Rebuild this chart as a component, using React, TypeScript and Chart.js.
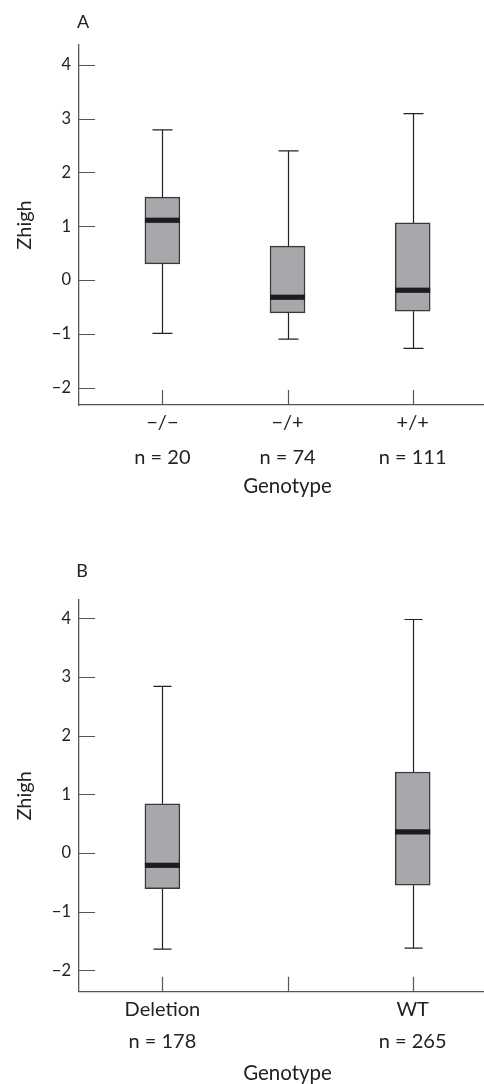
import React, { useEffect, useRef } from 'react';
import { Chart, registerables } from 'chart.js';

Chart.register(...registerables);

const FONT = 'Lato, "DejaVu Sans", sans-serif';
const TEXT = '#222222';
const AXIS = '#555555';

const yTickValues = [-2, -1, 0, 1, 2, 3, 4];

// Panel A
const genotypesA = ['−/−', '−/+', '+/+'];
const countsA = ['n = 20', 'n = 74', 'n = 111'];
const positionsA = [1, 2, 3];
const minA = [-0.99, -1.1, -1.27];
const q1A = [0.3, -0.61, -0.58];
const medA = [1.11, -0.32, -0.19];
const q3A = [1.54, 0.63, 1.06];
const maxA = [2.79, 2.4, 3.09];

// Panel B
const genotypesB = ['Deletion', 'WT'];
const countsB = ['n = 178', 'n = 265'];
const positionsB = [1, 3];
const minB = [-1.64, -1.62];
const q1B = [-0.61, -0.55];
const medB = [-0.21, 0.36];
const q3B = [0.84, 1.38];
const maxB = [2.84, 3.98];

const xTickPositions = [1, 2, 3];

const X_TICK_SIZE = 20;
const Y_TICK_SIZE = 16.5;

type Panel = {
  letter: string;
  letterX: number;
  letterY: number;
  names: string[];
  counts: string[];
  positions: number[];
  mins: number[];
  q1: number[];
  med: number[];
  q3: number[];
  maxs: number[];
  yMin: number;
  yMax: number;
  xMin: number;
  xMax: number;
  width: number;
  height: number;
  top: number;
  padTop: number;
  xScaleHeight: number;
  tickLineSpacing: number;
  firstLineCenter: number;
  xTitleY: number;
  capWidth: number;
};

const fmt = (v: number) => (v < 0 ? '−' + Math.abs(v) : String(v));

function extrasPlugin(p: Panel) {
  return {
    id: 'boxExtras',
    afterDatasetsDraw(chart: any) {
      const { ctx, chartArea } = chart;
      const x = chart.scales.x;
      const y = chart.scales.y;
      const meta = chart.getDatasetMeta(0);
      ctx.save();
      ctx.strokeStyle = '#222';
      ctx.lineWidth = 1.2;
      p.positions.forEach((pos, i) => {
        const px = Math.round(x.getPixelForValue(pos)) + 0.5;
        const yMax = y.getPixelForValue(p.maxs[i]);
        const yQ3 = y.getPixelForValue(p.q3[i]);
        const yQ1 = y.getPixelForValue(p.q1[i]);
        const yMin = y.getPixelForValue(p.mins[i]);
        ctx.beginPath();
        ctx.moveTo(px, yMax);
        ctx.lineTo(px, yQ3);
        ctx.moveTo(px, yQ1);
        ctx.lineTo(px, yMin);
        ctx.moveTo(px - p.capWidth / 2, yMax);
        ctx.lineTo(px + p.capWidth / 2, yMax);
        ctx.moveTo(px - p.capWidth / 2, yMin);
        ctx.lineTo(px + p.capWidth / 2, yMin);
        ctx.stroke();
        const bar = meta.data[i];
        const ym = y.getPixelForValue(p.med[i]);
        ctx.fillStyle = '#1c1c1c';
        ctx.fillRect(bar.x - bar.width / 2, ym - 2.6, bar.width, 5.2);
      });
      ctx.strokeStyle = AXIS;
      ctx.lineWidth = 1.2;
      ctx.beginPath();
      yTickValues.forEach((v) => {
        const py = Math.round(y.getPixelForValue(v)) + 0.5;
        ctx.moveTo(chartArea.left, py);
        ctx.lineTo(chartArea.left + 16, py);
      });
      xTickPositions.forEach((v) => {
        const px = Math.round(x.getPixelForValue(v)) + 0.5;
        ctx.moveTo(px, chartArea.bottom);
        ctx.lineTo(px, chartArea.bottom - 15);
      });
      ctx.stroke();
      ctx.fillStyle = TEXT;
      ctx.textAlign = 'center';
      ctx.textBaseline = 'middle';
      ctx.font = `20.5px ${FONT}`;
      ctx.fillText('Genotype', x.getPixelForValue(2), p.xTitleY);
      ctx.font = `18px ${FONT}`;
      ctx.fillText(p.letter, p.letterX, p.letterY);
      ctx.restore();
    },
  };
}

function buildConfig(p: Panel): any {
  const labelFor = (v: number) => {
    const idx = p.positions.indexOf(v);
    return idx >= 0 ? [p.names[idx], p.counts[idx]] : '';
  };
  const lh = p.tickLineSpacing / X_TICK_SIZE;
  const pad = p.firstLineCenter - p.tickLineSpacing / 2;
  return {
    type: 'bar',
    data: {
      datasets: [
        {
          data: p.positions.map((pos, i) => ({ x: pos, y: [p.q1[i], p.q3[i]] })),
          backgroundColor: '#a7a8ab',
          borderColor: '#3a3a3a',
          borderWidth: 1.5,
          borderSkipped: false,
          barThickness: 35,
        },
      ],
    },
    options: {
      animation: false,
      responsive: false,
      events: [],
      layout: { padding: { top: p.padTop, left: 0, right: 0, bottom: 0 } },
      plugins: {
        legend: { display: false },
        tooltip: { enabled: false },
        title: { display: false },
      },
      scales: {
        x: {
          type: 'linear',
          min: p.xMin,
          max: p.xMax,
          offset: false,
          grid: { display: false, drawTicks: false },
          border: { display: true, color: AXIS, width: 1.3 },
          afterBuildTicks: (s: any) => {
            s.ticks = xTickPositions.map((v) => ({ value: v }));
          },
          afterFit: (s: any) => {
            s.height = p.xScaleHeight;
          },
          ticks: {
            autoSkip: false,
            maxRotation: 0,
            padding: pad,
            color: TEXT,
            font: { family: FONT, size: X_TICK_SIZE, lineHeight: lh },
            callback: (v: number) => labelFor(v),
          },
        },
        y: {
          type: 'linear',
          min: p.yMin,
          max: p.yMax,
          grid: { display: false, drawTicks: false },
          border: { display: true, color: AXIS, width: 1.3 },
          afterBuildTicks: (s: any) => {
            s.ticks = yTickValues.map((v) => ({ value: v }));
          },
          afterFit: (s: any) => {
            s.width = 79;
          },
          ticks: {
            padding: 8,
            color: TEXT,
            font: { family: FONT, size: Y_TICK_SIZE },
            callback: (v: number) => fmt(v),
          },
          title: {
            display: true,
            text: 'Zhigh',
            color: TEXT,
            font: { family: FONT, size: 20, lineHeight: 1.2 },
            padding: { top: 13, bottom: 0 },
          },
        },
      },
    },
    plugins: [extrasPlugin(p)],
  };
}

const panelA: Panel = {
  letter: 'A',
  letterX: 83,
  letterY: 22,
  names: genotypesA,
  counts: countsA,
  positions: positionsA,
  mins: minA,
  q1: q1A,
  med: medA,
  q3: q3A,
  maxs: maxA,
  yMin: -2.322,
  yMax: 4.366,
  xMin: 0.3336,
  xMax: 3.57,
  width: 484,
  height: 505,
  top: 0,
  padTop: 45,
  xScaleHeight: 100,
  tickLineSpacing: 35,
  firstLineCenter: 17.7,
  xTitleY: 486.7,
  capWidth: 20,
};

const panelB: Panel = {
  letter: 'B',
  letterX: 82,
  letterY: 31,
  names: genotypesB,
  counts: countsB,
  positions: positionsB,
  mins: minB,
  q1: q1B,
  med: medB,
  q3: q3B,
  maxs: maxB,
  yMin: -2.364,
  yMax: 4.312,
  xMin: 0.3336,
  xMax: 3.57,
  width: 484,
  height: 544,
  top: 540,
  padTop: 60,
  xScaleHeight: 92.3,
  tickLineSpacing: 31.7,
  firstLineCenter: 18.3,
  xTitleY: 533,
  capWidth: 18,
};

function BoxPanel({ panel }: { panel: Panel }) {
  const ref = useRef<HTMLCanvasElement | null>(null);
  useEffect(() => {
    if (!ref.current) return;
    const chart = new Chart(ref.current, buildConfig(panel));
    return () => chart.destroy();
  }, [panel]);
  return (
    <canvas
      ref={ref}
      width={panel.width}
      height={panel.height}
      style={{
        position: 'absolute',
        left: 0,
        top: panel.top,
        width: panel.width,
        height: panel.height,
        display: 'block',
      }}
    />
  );
}

export default function App() {
  return (
    <div
      style={{
        position: 'absolute',
        left: 0,
        top: 0,
        width: 484,
        height: 1084,
        background: '#ffffff',
        overflow: 'hidden',
      }}
    >
      <BoxPanel panel={panelA} />
      <BoxPanel panel={panelB} />
    </div>
  );
}
